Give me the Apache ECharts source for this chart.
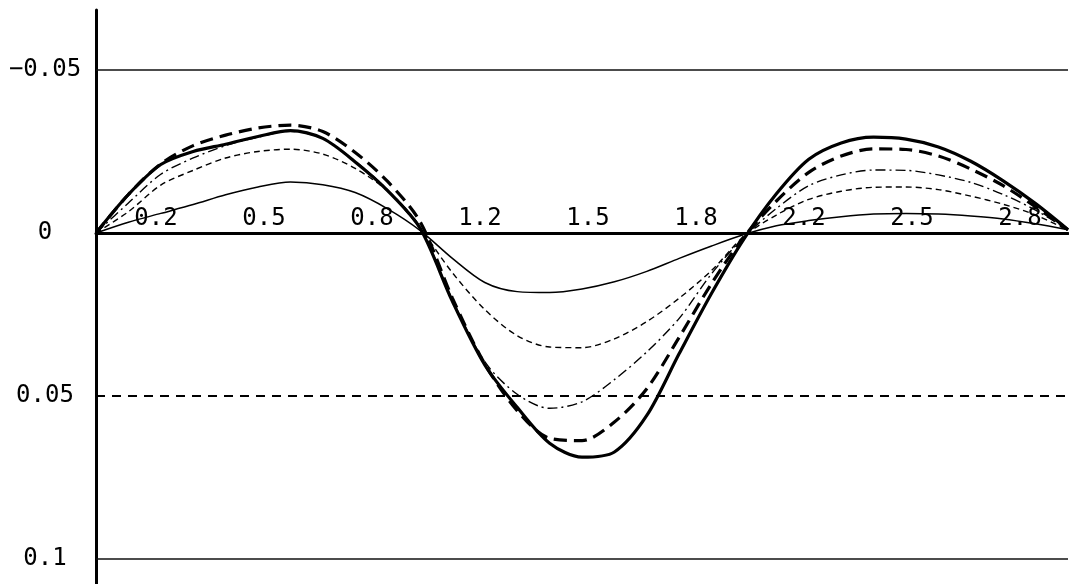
<!DOCTYPE html>
<html>
<head>
<meta charset="utf-8">
<script src="https://cdn.jsdelivr.net/npm/echarts@6/dist/echarts.min.js"></script>
<style>
html,body{margin:0;padding:0;background:#fff;}
#chart{width:1069px;height:584px;}
</style>
</head>
<body>
<div id="chart"></div>
<script>
// ---- data ----
const xValues = [0,0.1,0.2,0.3,0.4,0.5,0.6,0.7,0.8,0.9,1.0,1.1,1.2,1.3,1.4,1.5,1.6,1.7,1.8,1.9,2.0,2.1,2.2,2.3,2.4,2.5,2.6,2.7,2.8,2.9,3.0];
const seriesA = [0,-0.0118,-0.0210,-0.0250,-0.0272,-0.0296,-0.0314,-0.0290,-0.0218,-0.0130,-0.0015,0.0210,0.0405,0.0535,0.0645,0.0688,0.0672,0.0560,0.0370,0.0185,0.0018,-0.0120,-0.0226,-0.0276,-0.0294,-0.0288,-0.0264,-0.0220,-0.0160,-0.0090,-0.0010];
const seriesB = [0,-0.0118,-0.0212,-0.0268,-0.0300,-0.0322,-0.0331,-0.0311,-0.0247,-0.0158,-0.0035,0.0200,0.0402,0.0545,0.0630,0.0637,0.0580,0.0478,0.0320,0.0155,0.0012,-0.0098,-0.0186,-0.0236,-0.0258,-0.0256,-0.0236,-0.0196,-0.0145,-0.0080,-0.0010];
const seriesC = [0,-0.0092,-0.0180,-0.0230,-0.0268,-0.0294,-0.0312,-0.0290,-0.0220,-0.0132,-0.0018,0.0205,0.0395,0.0495,0.0538,0.0518,0.0450,0.0365,0.0262,0.0125,0.0012,-0.0075,-0.0145,-0.0178,-0.0193,-0.0192,-0.0178,-0.0155,-0.0118,-0.0070,-0.0010];
const seriesD = [0,-0.0065,-0.0147,-0.0192,-0.0230,-0.0250,-0.0257,-0.0242,-0.0198,-0.0128,-0.0015,0.0122,0.0235,0.0315,0.0350,0.0352,0.0325,0.0272,0.0200,0.0115,0.0010,-0.0055,-0.0103,-0.0128,-0.0140,-0.0141,-0.0133,-0.0113,-0.0088,-0.0055,-0.0008];
const seriesE = [0,-0.0033,-0.0060,-0.0087,-0.0117,-0.0141,-0.0156,-0.0148,-0.0124,-0.0074,-0.0008,0.0078,0.0152,0.0180,0.0183,0.0172,0.0150,0.0118,0.0078,0.0040,0.0005,-0.0022,-0.0038,-0.0050,-0.0058,-0.0060,-0.0058,-0.0052,-0.0043,-0.0028,-0.0010];
const xLabels = ['0.2','0.5','0.8','1.2','1.5','1.8','2.2','2.5','2.8'];
const yTicks = [-0.05, 0, 0.05, 0.1];
const yLabels = ['\u22120.05','0','0.05','0.1'];
const refLines = [-0.05, 0.05, 0.1];

// ---- styles ----
const FONT = 'DejaVu Sans Mono';
const refLineStyles = [
  {color:'#111', width:1.5, type:'solid'},
  {color:'#000', width:2, type:[9,7]},
  {color:'#111', width:1.5, type:'solid'}
];
const lineStyles = [
  {color:'#000', width:3.2, type:'solid'},
  {color:'#000', width:3.2, type:[13,7]},
  {color:'#000', width:1.4, type:[10,4,2,4]},
  {color:'#000', width:1.4, type:[6,4]},
  {color:'#000', width:1.5, type:'solid'}
];
const allSeries = [seriesA, seriesB, seriesC, seriesD, seriesE];

const series = allSeries.map((arr, i) => ({
  type: 'line',
  xAxisIndex: 0,
  yAxisIndex: 0,
  data: arr.map((v, j) => [xValues[j], v]),
  smooth: 0.3,
  showSymbol: false,
  symbol: 'none',
  silent: true,
  lineStyle: lineStyles[i],
  z: 10 - i
}));
series[4].markLine = {
  silent: true,
  symbol: 'none',
  label: {show: false},
  animation: false,
  data: refLines.map((v, i) => ({yAxis: v, lineStyle: refLineStyles[i]}))
};

const chart = echarts.init(document.getElementById('chart'), null, {renderer: 'canvas'});
chart.setOption({
  animation: false,
  backgroundColor: '#fff',
  grid: [
    {left: 96, right: 1, top: 10, bottom: 0, containLabel: false},
    {left: 96, right: 1, top: 10, height: 223, containLabel: false}
  ],
  xAxis: [
    {
      type: 'value', min: 0, max: 3, gridIndex: 0,
      axisLine: {show: true, onZero: true, lineStyle: {color: '#000', width: 3}},
      axisTick: {show: false}, axisLabel: {show: false}, splitLine: {show: false}
    },
    {
      type: 'category', data: xLabels, boundaryGap: true, position: 'bottom', gridIndex: 1,
      axisLine: {show: false, onZero: false},
      axisTick: {show: false}, splitLine: {show: false},
      axisLabel: {
        inside: true, margin: 2, interval: 0,
        fontFamily: FONT, fontSize: 24, color: '#000',
        padding: [0, 0, 0, 12]
      }
    }
  ],
  yAxis: [
    {
      type: 'value', inverse: true, min: -0.0684, max: 0.1077, gridIndex: 0,
      axisLine: {show: true, onZero: false, lineStyle: {color: '#000', width: 3}},
      axisTick: {show: false}, splitLine: {show: false},
      axisLabel: {
        customValues: yTicks,
        formatter: function (v) {
          const k = yTicks.findIndex(t => Math.abs(t - v) < 1e-9);
          return k >= 0 ? yLabels[k] : '';
        },
        align: 'center', margin: 51,
        fontFamily: FONT, fontSize: 24, color: '#000'
      }
    },
    {
      type: 'value', gridIndex: 1, show: false, min: 0, max: 1
    }
  ],
  series: series
});
</script>
</body>
</html>
